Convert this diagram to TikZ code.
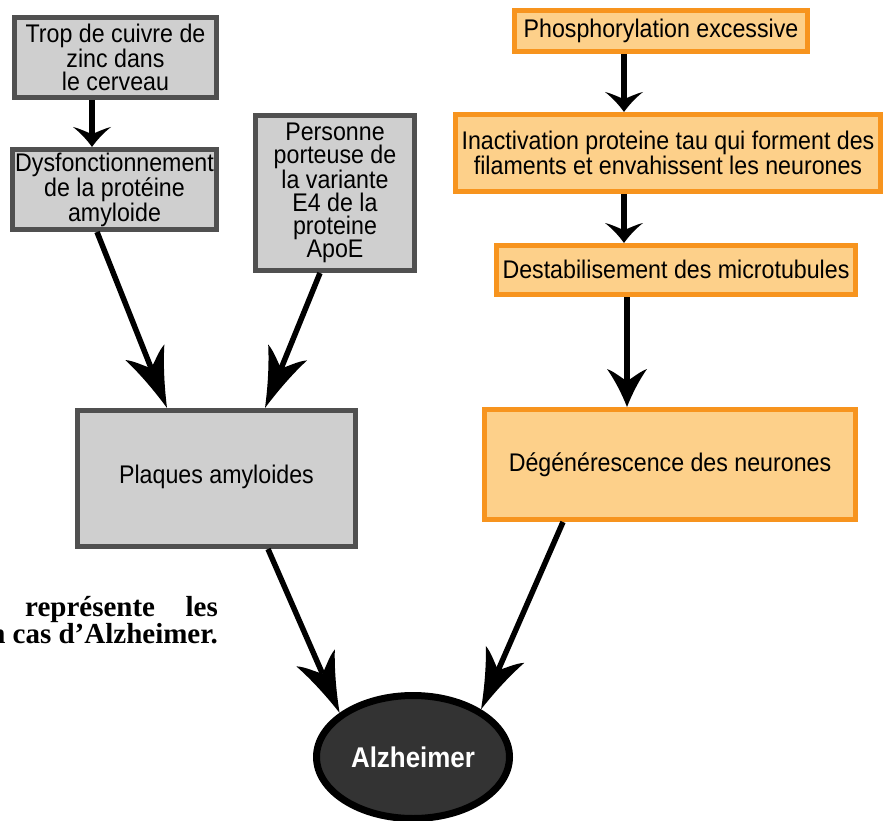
\documentclass[tikz,border=0pt]{standalone}
\usepackage{fontspec}
\setmainfont{Liberation Sans}[FakeStretch=0.91]
\newfontfamily\serifbold{Liberation Serif}[BoldFont={Liberation Serif Bold}]
\usetikzlibrary{arrows.meta,shapes.geometric}
\definecolor{grayfill}{HTML}{CFCFCF}
\definecolor{grayline}{HTML}{505050}
\definecolor{orfill}{HTML}{FDD08A}
\definecolor{orline}{HTML}{F7941E}
\definecolor{alzfill}{HTML}{333333}
\pgfdeclarearrow{
  name=Swoop,
  parameters={\the\pgfarrowlength,\the\pgfarrowwidth,\the\pgfarrowinset},
  setup code={
    \pgfarrowssettipend{0pt}
    \pgfarrowssetbackend{-\pgfarrowlength}
    \dimen0=\pgfarrowlength
    \advance\dimen0 by -\pgfarrowinset
    \pgfarrowssetlineend{-\dimen0}
    \pgfarrowsupperhullpoint{-\pgfarrowlength}{.5\pgfarrowwidth}
    \pgfarrowssavethe\pgfarrowlength
    \pgfarrowssavethe\pgfarrowwidth
    \pgfarrowssavethe\pgfarrowinset
  },
  drawing code={
    \pgfpathmoveto{\pgfpoint{0pt}{0pt}}
    \pgfpathcurveto{\pgfpoint{-.35*\pgfarrowlength}{.13*\pgfarrowwidth}}
                   {\pgfpoint{-.7*\pgfarrowlength}{.3*\pgfarrowwidth}}
                   {\pgfpoint{-\pgfarrowlength}{.5*\pgfarrowwidth}}
    \pgfpathcurveto{\pgfpoint{-\pgfarrowlength+.25*\pgfarrowinset}{.3*\pgfarrowwidth}}
                   {\pgfpoint{-\pgfarrowlength+.8*\pgfarrowinset}{.12*\pgfarrowwidth}}
                   {\pgfpoint{-\pgfarrowlength+\pgfarrowinset}{0pt}}
    \pgfpathcurveto{\pgfpoint{-\pgfarrowlength+.8*\pgfarrowinset}{-.12*\pgfarrowwidth}}
                   {\pgfpoint{-\pgfarrowlength+.25*\pgfarrowinset}{-.3*\pgfarrowwidth}}
                   {\pgfpoint{-\pgfarrowlength}{-.5*\pgfarrowwidth}}
    \pgfpathcurveto{\pgfpoint{-.7*\pgfarrowlength}{-.3*\pgfarrowwidth}}
                   {\pgfpoint{-.35*\pgfarrowlength}{-.13*\pgfarrowwidth}}
                   {\pgfpoint{0pt}{0pt}}
    \pgfpathclose
    \pgfusepathqfill
  },
  defaults={length=20pt, width=30pt, inset=6pt}
}
\tikzset{
  graybox/.style={draw=grayline, fill=grayfill, line width=5pt, rectangle, align=center, inner sep=0pt,
    font=\fontsize{25.5}{23}\selectfont},
  orbox/.style={draw=orline, fill=orfill, line width=5pt, rectangle, align=center, inner sep=0pt,
    font=\fontsize{25.5}{22.5}\selectfont},
  conn/.style={line width=5.5pt, black},
  arrS/.style={conn, -{Swoop[length=20pt,width=38pt,inset=7pt]}},
  arrM/.style={conn, -{Swoop[length=38pt,width=40pt,inset=12pt]}},
  arrL/.style={conn, -{Swoop[length=60pt,width=42pt,inset=17pt]}},
  captxt/.style={inner sep=0pt, font=\serifbold\bfseries\fontsize{29}{29}\selectfont},
}
\begin{document}
\begin{tikzpicture}[x=1pt,y=-1pt]
\useasboundingbox (0,0) rectangle (883,821);
\begin{scope}
\clip (0,0) rectangle (883,821);
% left column
\node[graybox, minimum width=202pt, minimum height=80pt] (b1) at (115.5,57.5)
  {Trop de cuivre de\\zinc dans\\le cerveau};
\node[graybox, minimum width=204pt, minimum height=80pt] (b2) at (114.5,189.5)
  {Dysfonctionnement\\de la protéine\\amyloide};
\node[graybox, minimum width=159pt, minimum height=155pt, font=\fontsize{25.5}{23.2}\selectfont] (b3) at (335,193)
  {Personne\\porteuse de\\la variante\\E4 de la\\proteine\\ApoE};
\node[graybox, minimum width=278pt, minimum height=136pt] (plq) at (216.5,478.5)
  {\raisebox{8pt}{Plaques amyloides}};
% right column
\node[orbox, minimum width=293pt, minimum height=41pt] (ph) at (661,31)
  {Phosphorylation excessive};
\node[orbox, minimum width=425pt, minimum height=77pt] (ina) at (668,153)
  {Inactivation proteine tau qui forment des\\filaments et envahissent les neurones};
\node[orbox, minimum width=359pt, minimum height=49pt] (des) at (676,270)
  {\raisebox{2pt}{Destabilisement des microtubules}};
\node[orbox, minimum width=371pt, minimum height=110pt] (deg) at (670,464.5)
  {Dégénérescence des neurones};
% Alzheimer
\node[ellipse, draw=black, fill=alzfill, line width=7pt, minimum width=193pt, minimum height=123pt,
  inner sep=0pt, text=white, font=\fontsize{28.5}{28}\selectfont\bfseries] (alz) at (413,757) {Alzheimer};
% caption fragment (cut at the left edge, as in the source)
\node[captxt, anchor=base west] (t1) at (25,616) {représente};
\node[captxt, anchor=base east] (t2) at (218,616) {les};
\node[captxt, anchor=base east] (t3) at (218,643) {n cas d’Alzheimer.};
% connectors
\draw[arrS] ([xshift=-23.5pt]b1.south) -- ([xshift=-22.5pt]b2.north);
\draw[arrL] ([xshift=-17.5pt]b2.south) -- ([xshift=-49.5pt]plq.north);
\draw[arrL] ([xshift=-15pt]b3.south) -- ([xshift=48.5pt]plq.north);
\draw[arrS] ([xshift=-37pt]ph.south) -- ([xshift=-44pt]ina.north);
\draw[arrS] ([xshift=-44pt]ina.south) -- ([xshift=-52pt]des.north);
\draw[arrM] ([xshift=-49pt]des.south) -- ([xshift=-43pt]deg.north);
\draw[arrL] ([xshift=51.5pt]plq.south) -- (alz.149);
\draw[arrL] ([xshift=-107pt]deg.south) -- (alz.35);
\end{scope}
\end{tikzpicture}
\end{document}
